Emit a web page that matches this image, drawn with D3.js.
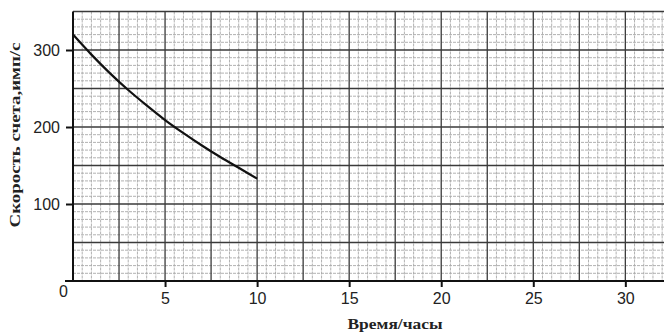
<!DOCTYPE html>
<html>
<head>
<meta charset="utf-8">
<script src="https://cdn.jsdelivr.net/npm/d3@7"></script>
<style>
  html, body { margin: 0; padding: 0; background: #fff; }
  svg { display: block; }
</style>
</head>
<body>
<svg id="chart" width="664" height="333"></svg>
<script>
// ---- data ----
const timeHours = [0, 1, 2, 3, 4, 5, 6, 7, 8, 9, 10];
const countRate = [320, 294, 270, 248, 228, 209, 192, 176, 161, 147, 133];
const xTickValues = [5, 10, 15, 20, 25, 30];
const yTickValues = [100, 200, 300];
const xLabel = "Время/часы";
const yLabel = "Скорость счета,имп/с";

const W = 664, H = 333;
const svg = d3.select("#chart");

const x = d3.scaleLinear().domain([0, 32.1]).range([73, 664]);
const y = d3.scaleLinear().domain([0, 350]).range([281, 11.5]);

// ---- graph-paper grid ----
const grid = svg.append("g");
const fine = d3.range(0, 32.2, 0.5);
const fineY = d3.range(0, 351, 10);
grid.selectAll(".vf").data(fine.filter(v => Math.abs(v / 2.5 - Math.round(v / 2.5)) > 1e-6))
  .join("line")
  .attr("x1", d => x(d)).attr("x2", d => x(d))
  .attr("y1", y(350)).attr("y2", y(0))
  .attr("stroke", "#a9a9a9").attr("stroke-width", 0.9)
  .attr("stroke-dasharray", "3,1");
grid.selectAll(".hf").data(fineY.filter(v => v % 50 !== 0))
  .join("line")
  .attr("x1", x(0)).attr("x2", W)
  .attr("y1", d => y(d)).attr("y2", d => y(d))
  .attr("stroke", "#a9a9a9").attr("stroke-width", 0.9)
  .attr("stroke-dasharray", "3,1");
grid.selectAll(".vm").data(d3.range(2.5, 32.2, 2.5))
  .join("line")
  .attr("x1", d => x(d)).attr("x2", d => x(d))
  .attr("y1", y(350)).attr("y2", y(0))
  .attr("stroke", "#3a3a3a").attr("stroke-width", 1.3);
grid.selectAll(".hm").data(d3.range(50, 351, 50))
  .join("line")
  .attr("x1", x(0)).attr("x2", W)
  .attr("y1", d => y(d)).attr("y2", d => y(d))
  .attr("stroke", "#3a3a3a").attr("stroke-width", 1.3);

// axis lines
svg.append("line").attr("x1", x(0)).attr("x2", x(0)).attr("y1", y(350)).attr("y2", y(0))
  .attr("stroke", "#111").attr("stroke-width", 2);
svg.append("line").attr("x1", x(0) - 8).attr("x2", W).attr("y1", y(0)).attr("y2", y(0))
  .attr("stroke", "#111").attr("stroke-width", 2);

// ---- axes ----
const xAxis = svg.append("g").attr("transform", `translate(0,${y(0)})`)
  .call(d3.axisBottom(x).tickValues(xTickValues).tickSize(6).tickPadding(6));
const yAxis = svg.append("g").attr("transform", `translate(${x(0)},0)`)
  .call(d3.axisLeft(y).tickValues(yTickValues).tickSize(7).tickPadding(6));
[xAxis, yAxis].forEach(g => {
  g.select(".domain").remove();
  g.selectAll(".tick line").attr("stroke", "#111").attr("stroke-width", 2);
  g.selectAll(".tick text")
    .attr("fill", "#222")
    .style("font-family", "Liberation Sans, Arial, sans-serif")
    .style("font-size", "16px");
});
// origin label
svg.append("text").attr("x", x(0) - 5).attr("y", y(0) + 16)
  .attr("text-anchor", "end")
  .attr("fill", "#222")
  .style("font-family", "Liberation Sans, Arial, sans-serif")
  .style("font-size", "16px")
  .text("0");

// ---- curve ----
const line = d3.line()
  .x((d, i) => x(timeHours[i]))
  .y(d => y(d))
  .curve(d3.curveMonotoneX);
svg.append("path").datum(countRate)
  .attr("d", line)
  .attr("fill", "none")
  .attr("stroke", "#111")
  .attr("stroke-width", 2.2);

// ---- axis titles ----
svg.append("text")
  .attr("x", 395).attr("y", 329)
  .attr("text-anchor", "middle")
  .attr("textLength", 95).attr("lengthAdjust", "spacingAndGlyphs")
  .style("font-family", "Liberation Serif, Times New Roman, serif")
  .style("font-weight", "bold")
  .style("font-size", "14px")
  .attr("fill", "#222")
  .text(xLabel);
svg.append("text")
  .attr("transform", "translate(20,135) rotate(-90)")
  .attr("text-anchor", "middle")
  .attr("textLength", 185).attr("lengthAdjust", "spacingAndGlyphs")
  .style("font-family", "Liberation Serif, Times New Roman, serif")
  .style("font-weight", "bold")
  .style("font-size", "14px")
  .attr("fill", "#222")
  .text(yLabel);
</script>
</body>
</html>
